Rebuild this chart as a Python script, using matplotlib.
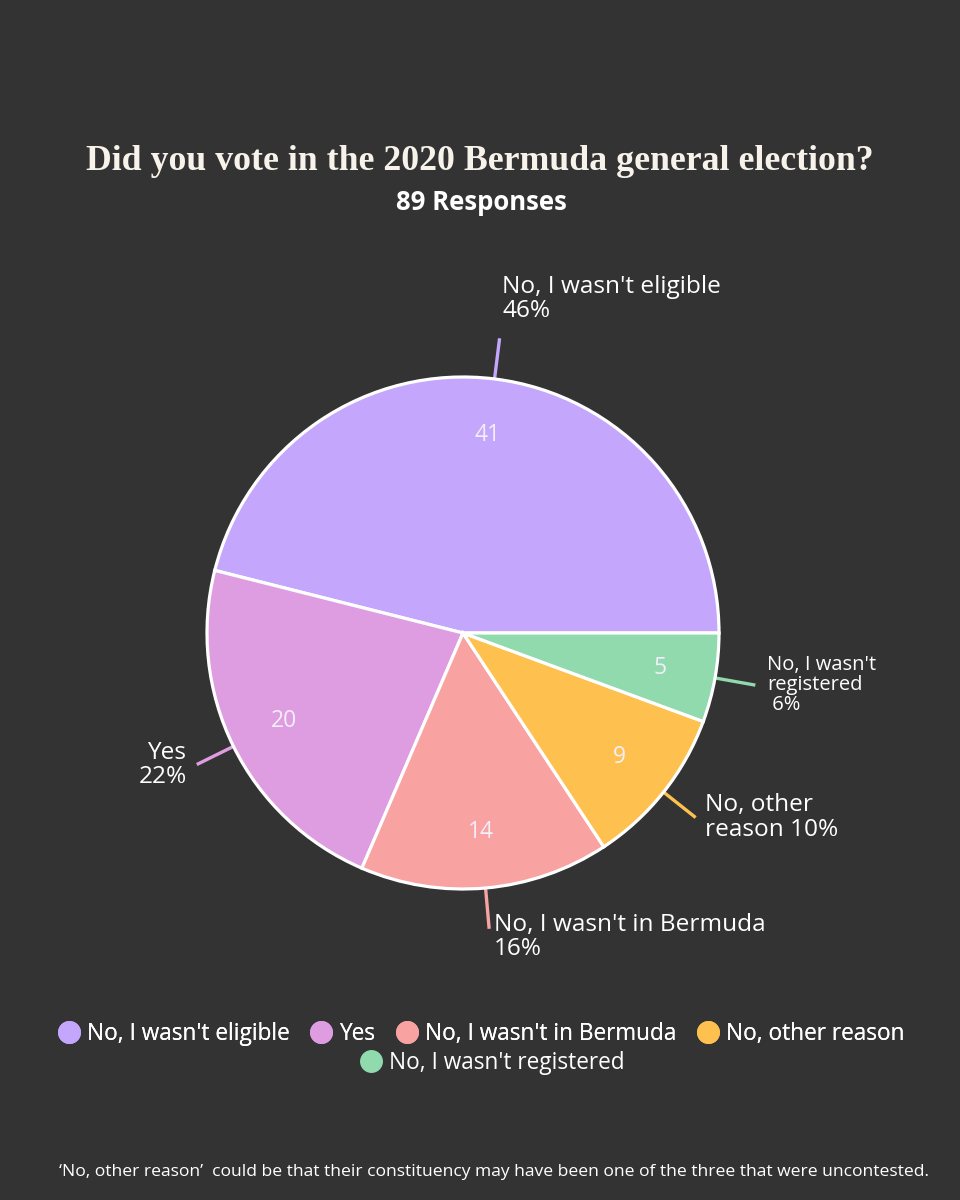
import numpy as np
import matplotlib
matplotlib.use("Agg")
import matplotlib.pyplot as plt
from matplotlib.lines import Line2D

# ---- data ----
categories = ["No, I wasn't eligible", "Yes", "No, I wasn't in Bermuda",
              "No, other reason", "No, I wasn't registered"]
counts = [41, 20, 14, 9, 5]
colors = ["#C4A7FC", "#DF9DE1", "#F9A2A2", "#FEC150", "#90DAAE"]
label_texts = ["No, I wasn't eligible\n{p}%", "Yes\n{p}%", "No, I wasn't in Bermuda\n{p}%",
               "No, other\nreason {p}%", "No, I wasn't\nregistered\n {p}%"]
title = "Did you vote in the 2020 Bermuda general election?"
subtitle = "89 Responses"
footnote = "\u2018No, other reason\u2019  could be that their constituency may have been one of the three that were uncontested."

BG = "#333333"
W, H = 960, 1200
fig = plt.figure(figsize=(W / 100, H / 100), dpi=100, facecolor=BG)

cx, cy, R = 463, 633, 256
ax = fig.add_axes([(cx - R) / W, (H - cy - R) / H, 2 * R / W, 2 * R / H])
ax.set_facecolor(BG)
ax.axis("off")

total = sum(counts)
wedges, texts, autotexts = ax.pie(
    counts, colors=colors, startangle=0, counterclock=True, radius=1,
    autopct=lambda p: f"{round(p * total / 100):d}", pctdistance=0.78,
    wedgeprops=dict(edgecolor="white", linewidth=2.3),
    textprops=dict(color="#F4EEFA", fontsize=16.5, family="Open Sans"))
ax.set_xlim(-1, 1)
ax.set_ylim(-1, 1)
ax.set_aspect("equal")

# leader lines & outside labels
label_cfg = [
    dict(ha="left", va="bottom", dx=0.01, dy=0.06, fs=17.6, ls=1.0),
    dict(ha="right", va="center", dx=-0.04, dy=0.0, fs=17.6, ls=1.0),
    dict(ha="left", va="top", dx=0.02, dy=0.06, fs=17.6, ls=1.0),
    dict(ha="left", va="center", dx=0.035, dy=0.0, fs=17.6, ls=1.02),
    dict(ha="left", va="center", dx=0.045, dy=0.0, fs=14.5, ls=1.0),
]
for i, w in enumerate(wedges):
    ang = np.deg2rad((w.theta1 + w.theta2) / 2)
    x0, y0 = np.cos(ang), np.sin(ang)
    r1 = 1.16
    ax.plot([x0 * 1.0, x0 * r1], [y0 * 1.0, y0 * r1], color=colors[i], lw=2.4,
            solid_capstyle="butt", clip_on=False, zorder=0)
    pct = round(counts[i] / total * 100)
    c = label_cfg[i]
    ax.text(x0 * r1 + c["dx"], y0 * r1 + c["dy"], label_texts[i].format(p=pct),
            ha=c["ha"], va=c["va"], multialignment=c["ha"],
            color="white", fontsize=c["fs"], family="Open Sans", linespacing=c["ls"],
            clip_on=False)

# title, fit width to ~787 px
t = fig.text(480 / W, 1 - 161 / H, title, ha="center", va="center",
             color="#F7F2EA", fontsize=24, family="Liberation Serif", fontweight="bold")
fig.canvas.draw()
bb = t.get_window_extent()
t.set_fontsize(24 * 787 / bb.width)

fig.text(481 / W, 1 - 202 / H, subtitle, ha="center", va="center",
         color="white", fontsize=18.5, family="Open Sans", fontweight="bold")

# legend
def handle(c):
    return Line2D([], [], marker="o", linestyle="none", markersize=15.5,
                  markerfacecolor=c, markeredgecolor=c)

leg1 = fig.legend([handle(c) for c in colors[:4]], categories[:4], loc="center",
                  bbox_to_anchor=(480 / W, 1 - 1034 / H), ncol=4, frameon=False,
                  handletextpad=0.2, columnspacing=0.8, handlelength=1.2,
                  prop=dict(family="Open Sans", size=16.3), labelcolor="white")
fig.add_artist(leg1)
fig.legend([handle(colors[4])], categories[4:], loc="center",
           bbox_to_anchor=(491 / W, 1 - 1063 / H), ncol=1, frameon=False,
           handletextpad=0.2, handlelength=1.2,
           prop=dict(family="Open Sans", size=16.3), labelcolor="white")

fig.text(494 / W, 1 - 1172 / H, footnote, ha="center", va="center",
         color="white", fontsize=12.6, family="Open Sans")

fig.savefig("out.png", dpi=100, facecolor=BG)
